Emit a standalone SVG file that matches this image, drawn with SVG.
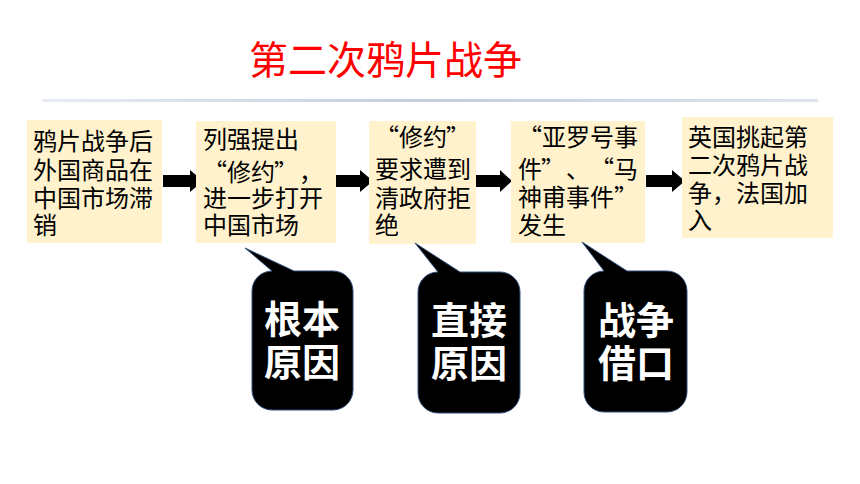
<svg xmlns="http://www.w3.org/2000/svg" width="860" height="484" viewBox="0 0 860 484">
<defs>
<linearGradient id="rule" x1="0" y1="0" x2="1" y2="0">
<stop offset="0" stop-color="#e8ecf3"/>
<stop offset="0.5" stop-color="#c3cddf"/>
<stop offset="1" stop-color="#dfe4ee"/>
</linearGradient>
<style>
.title{font-family:"Noto Sans CJK SC","Noto Sans",sans-serif;font-size:39px;fill:#ff0000;}
.box{fill:#fff2cc;}
.bt{font-family:"Noto Sans CJK SC","Noto Sans",sans-serif;font-size:24px;fill:#000;}
.arrow{fill:#000;}
.bubble{fill:#000;stroke:#34507a;stroke-width:1;}
.bub{font-family:"Noto Sans CJK SC","Noto Sans",sans-serif;font-size:38px;font-weight:bold;fill:#fff;text-anchor:middle;}
</style>
</defs>
<rect width="860" height="484" fill="#fff"/>
<text class="title" x="249" y="74">第二次鸦片战争</text>
<rect x="42" y="99" width="776" height="3" fill="url(#rule)"/>

<g id="connectors">
<polygon class="arrow" points="163,175 190,175 190,170 203,181 190,192 190,187 163,187"/>
<polygon class="arrow" points="333,175 360,175 360,170 373,181 360,192 360,187 333,187"/>
<polygon class="arrow" points="476,175 500,175 500,170 512,181 500,192 500,187 476,187"/>
<polygon class="arrow" points="646,175 672,175 672,170 685,181 672,192 672,187 646,187"/>
</g>

<g id="box1">
<rect class="box" x="27" y="120" width="135" height="123"/>
<text class="bt"><tspan x="33" y="150">鸦片战争后</tspan><tspan x="33" y="179">外国商品在</tspan><tspan x="33" y="207">中国市场滞</tspan><tspan x="33" y="234">销</tspan></text>
</g>
<g id="box2">
<rect class="box" x="196" y="121" width="140" height="122"/>
<text class="bt"><tspan x="203" y="148">列强提出</tspan><tspan x="203 227 251 274 299" y="181">“修约”，</tspan><tspan x="203" y="207">进一步打开</tspan><tspan x="203" y="234">中国市场</tspan></text>
</g>
<g id="box3">
<rect class="box" x="369" y="121" width="107" height="123"/>
<text class="bt"><tspan x="375 399 423 446" y="146">“修约”</tspan><tspan x="375" y="178">要求遭到</tspan><tspan x="375" y="207">清政府拒</tspan><tspan x="375" y="234">绝</tspan></text>
</g>
<g id="box4">
<rect class="box" x="511" y="121" width="134" height="122"/>
<text class="bt"><tspan x="518 542 566 590 614" y="146">“亚罗号事</tspan><tspan x="518 541 566 590 614" y="178">件”、“马</tspan><tspan x="518" y="206">神甫事件”</tspan><tspan x="518" y="234">发生</tspan></text>
</g>
<g id="box5">
<rect class="box" x="682" y="117" width="151" height="121"/>
<text class="bt"><tspan x="688" y="146">英国挑起第</tspan><tspan x="688" y="174">二次鸦片战</tspan><tspan x="688" y="202">争，法国加</tspan><tspan x="688" y="229">入</tspan></text>
</g>

<g id="bubble1">
<path class="bubble" d="M252,291 A20,20 0 0 1 272,271 L245,248 L294,271 L333,271 A20,20 0 0 1 353,291 L353,390 A20,20 0 0 1 333,410 L272,410 A20,20 0 0 1 252,390 Z"/>
<text class="bub"><tspan x="302" y="333">根本</tspan><tspan x="302" y="376">原因</tspan></text>
</g>
<g id="bubble2">
<path class="bubble" d="M418,292 A20,20 0 0 1 438,272 L415,243 L460,272 L500,272 A20,20 0 0 1 520,292 L520,393 A20,20 0 0 1 500,413 L438,413 A20,20 0 0 1 418,393 Z"/>
<text class="bub"><tspan x="469" y="334">直接</tspan><tspan x="469" y="377">原因</tspan></text>
</g>
<g id="bubble3">
<path class="bubble" d="M584,291 A20,20 0 0 1 604,271 L582,242 L627,271 L667,271 A20,20 0 0 1 687,291 L687,392 A20,20 0 0 1 667,412 L604,412 A20,20 0 0 1 584,392 Z"/>
<text class="bub"><tspan x="636" y="334">战争</tspan><tspan x="636" y="377">借口</tspan></text>
</g>
</svg>
